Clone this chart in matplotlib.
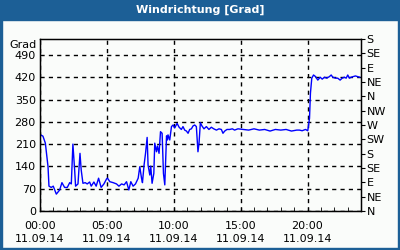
import matplotlib
matplotlib.use('Agg')
import matplotlib.pyplot as plt
from matplotlib.patches import Rectangle

# wind direction readings, 11.09.14 (hour of day, degrees)
hours = [0.05, 0.22, 0.40, 0.60, 0.67, 0.84, 0.99, 1.22, 1.47, 1.64, 1.84, 2.04,
         2.22, 2.34, 2.46, 2.59, 2.66, 2.84, 2.99, 3.08, 3.21, 3.38, 3.53, 3.71,
         3.83, 4.03, 4.20, 4.38, 4.57, 4.78, 4.98, 5.05, 5.22, 5.47, 5.72, 5.90,
         6.10, 6.29, 6.47, 6.64, 6.79, 6.96, 7.14, 7.34, 7.46, 7.59, 7.66, 7.78,
         7.89, 8.01, 8.08, 8.21, 8.28, 8.38, 8.51, 8.58, 8.71, 8.78, 8.90, 9.01,
         9.13, 9.23, 9.33, 9.46, 9.53, 9.57, 9.70, 9.83, 9.95, 10.07, 10.25, 10.40,
         10.57, 10.69, 10.82, 10.95, 11.07, 11.19, 11.32, 11.44, 11.57, 11.69, 11.81, 11.89,
         11.99, 12.11, 12.26, 12.44, 12.63, 12.81, 12.99, 13.19, 13.38, 13.56, 13.68, 13.81,
         13.98, 14.18, 14.38, 14.55, 14.80, 15.2, 15.6, 16.0, 16.4, 16.8, 17.2, 17.6,
         18.0, 18.4, 18.8, 19.2, 19.40, 19.60, 19.85, 20.02, 20.15, 20.22, 20.32, 20.45,
         20.60, 20.77, 20.95, 21.10, 21.27, 21.44, 21.64, 21.77, 21.89, 22.09, 22.26, 22.44,
         22.59, 22.76, 22.89, 23.01, 23.13, 23.26, 23.43, 23.58, 23.75, 23.9]
grad = [239, 235, 213, 139, 78, 74, 78, 53, 66, 89, 74, 74,
        89, 85, 210, 129, 78, 85, 181, 129, 87, 89, 85, 91,
        78, 91, 78, 103, 74, 85, 101, 103, 92, 89, 85, 78,
        85, 82, 92, 66, 92, 78, 85, 103, 139, 103, 89, 144,
        181, 231, 144, 113, 141, 87, 118, 213, 186, 204, 181, 249,
        244, 118, 82, 236, 223, 239, 223, 265, 270, 261, 275, 263,
        256, 265, 254, 251, 244, 256, 258, 267, 270, 265, 186, 213,
        277, 267, 258, 265, 256, 263, 258, 254, 258, 256, 244, 251,
        256, 256, 258, 254, 258, 256, 254, 258, 254, 256, 251, 256,
        254, 256, 251, 254, 254, 252, 256, 252, 291, 370, 417, 427,
        422, 411, 420, 414, 420, 417, 422, 427, 420, 417, 417, 411,
        417, 420, 417, 427, 417, 420, 422, 424, 422, 420]

y_ticks = [0, 70, 140, 210, 280, 350, 420, 490]
x_ticks = [0, 5, 10, 15, 20]
x_labels = ['00:00\n11.09.14', '05:00\n11.09.14', '10:00\n11.09.14',
            '15:00\n11.09.14', '20:00\n11.09.14']
compass = ['N', 'NE', 'E', 'SE', 'S', 'SW', 'W', 'NW', 'N', 'NE', 'E', 'SE', 'S']

frame = '#1c5f96'
bg = '#fafcfa'

fig = plt.figure(figsize=(4, 2.5), dpi=100, facecolor=bg)
ax = fig.add_axes([0.1, 0.156, 0.8025, 0.688])
ax.set_facecolor(bg)

ax.plot(hours, grad, color='#0000ff', lw=1)

ax.set_xlim(0, 24)
ax.set_ylim(0, 540)
ax.set_yticks(y_ticks)
ax.set_xticks(x_ticks)
ax.set_xticklabels(x_labels, linespacing=1.45)
ax.set_xticks(range(25), minor=True)
ax.tick_params(axis='y', length=0, labelsize=8, pad=3)
ax.tick_params(axis='x', which='both', direction='in', length=3, labelsize=8, pad=7)
ax.grid(True, color='black', ls=(0, (3, 3)), lw=1)
for s in ax.spines.values():
    s.set_color('black')
    s.set_linewidth(1)

ax2 = ax.twinx()
ax2.set_ylim(0, 540)
ax2.set_yticks(range(0, 541, 45))
ax2.set_yticklabels(compass)
ax2.tick_params(axis='y', direction='out', length=3, labelsize=8, pad=1)

fig.text(37 / 400, 1 - 45 / 250, 'Grad', ha='right', va='center', fontsize=8)

# blue frame with title bar
fig.patches.append(Rectangle((0, 0.92), 1, 0.08, transform=fig.transFigure,
                             color=frame, zorder=0))
for r in [(0, 0, 0.005, 1), (0.995, 0, 0.005, 1), (0, 0, 1, 0.008)]:
    fig.patches.append(Rectangle(r[:2], r[2], r[3], transform=fig.transFigure,
                                 color=frame, zorder=0))
fig.text(0.5, 0.96, 'Windrichtung [Grad]', ha='center', va='center',
         color='white', fontsize=8, fontweight='bold')

fig.savefig('out.png', dpi=100, facecolor=bg)
